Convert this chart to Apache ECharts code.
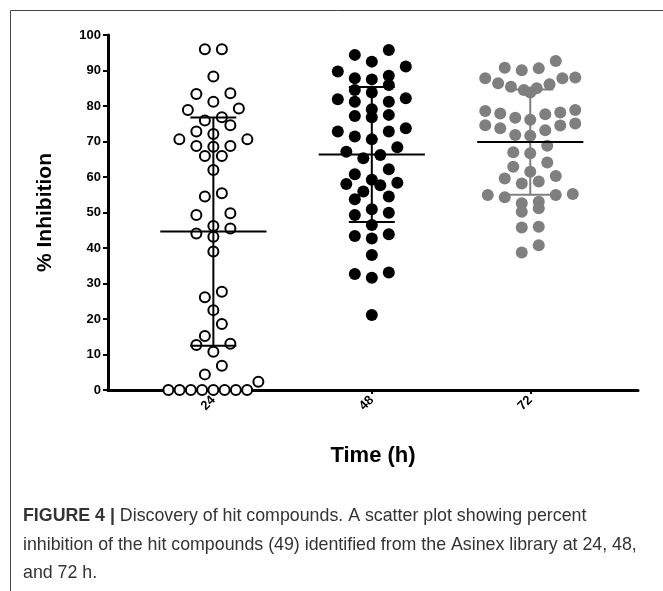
<!DOCTYPE html>
<html>
<head>
<meta charset="utf-8">
<script src="https://cdn.jsdelivr.net/npm/echarts@6/dist/echarts.min.js"></script>
<style>
html, body { margin: 0; padding: 0; background: #fff; }
#chart { width: 663px; height: 591px; }
</style>
</head>
<body>
<div id="chart"></div>
<script>
// categories (Time, h) and their position on the x value axis
const timeLabels = ['24', '48', '72']
const timePos = [1, 2, 3]

// % inhibition of the 49 hit compounds at each time point
const inhib24 = [96, 96, 88.3, 83.4, 83.6, 81.2, 79.3, 78.9, 76.8, 75.9, 74.6, 72.1, 72.8,
    70.6, 70.6, 68.7, 68.7, 68.5, 65.9, 65.9, 62, 55.4, 54.5, 49.3, 49.8, 45.5, 46.2,
    43.2, 44.1, 39, 26.1, 27.7, 22.5, 18.6, 15.2, 10.8, 12.7, 13, 6.8, 4.4, 2.3,
    0, 0, 0, 0, 0, 0, 0, 0]
const inhib48 = [95.8, 94.4, 92.5, 91.1, 89.7, 88.5, 87.8, 87.5, 85.9, 84.5, 83.8, 81.9,
    81.2, 82.2, 81.2, 79.1, 77.2, 76.8, 77.5, 73.7, 72.8, 72.8, 70.6, 71.4, 68.4, 67.1,
    65.3, 66.2, 62.2, 60.8, 59.2, 58, 57.7, 58.4, 55.9, 53.7, 54.5, 50.9, 49.3, 49.9,
    46.5, 43.9, 43.4, 42.7, 38, 32.7, 31.6, 33.1, 21.1]
const inhib72 = [90.8, 90.1, 90.6, 92.7, 87.8, 86.1, 85.4, 84.5, 83.8, 85, 86.4, 88, 87.8,
    78.9, 77.9, 76.7, 77.7, 78.2, 78.6, 76.1, 74.5, 73.7, 73.2, 74.6, 75.1, 71.8, 71.6,
    68.8, 67, 66.7, 64.1, 62.9, 61.5, 60.3, 58.7, 58.2, 59.6, 55.2, 54.9, 53, 51.2,
    52.6, 50.2, 54.3, 54.9, 46, 45.8, 40.8, 38.7]

const yTicks = [0, 10, 20, 30, 40, 50, 60, 70, 80, 90, 100]

const X_MIN = 0.335
const X_MAX = 3.68
const GRID = { left: 108, right: 25, top: 35, bottom: 201 }
const pxPerX = (663 - GRID.left - GRID.right) / (X_MAX - X_MIN)
const ROW_H = 3.6      // value range that shares one row
const MAX_GAP = 17     // px between neighbours in a row
const ROW_W = 90       // px, widest row

// column-scatter layout: points close in value share a row, spread out from the centre
function spread(values, center) {
    const idx = values.map((v, i) => i).sort((a, b) => values[b] - values[a])
    const out = []
    let row = []
    const flush = () => {
        if (!row.length) return
        const n = row.length
        const gap = n > 1 ? Math.min(MAX_GAP, ROW_W / (n - 1)) : 0
        const slots = []
        for (let k = 0; k < n; k++) slots.push(k - (n - 1) / 2)
        slots.sort((a, b) => Math.abs(a) - Math.abs(b) || a - b)
        const asc = row.slice().sort((a, b) => values[a] - values[b])
        asc.forEach((i, k) => { out[i] = [center + slots[k] * gap / pxPerX, values[i]] })
        row = []
    }
    let start = null
    idx.forEach(i => {
        if (start === null || values[i] < start - ROW_H) {
            flush()
            start = values[i]
        }
        row.push(i)
    })
    flush()
    return out
}

function meanSd(values) {
    const m = values.reduce((a, b) => a + b, 0) / values.length
    const v = values.reduce((a, b) => a + (b - m) ** 2, 0) / (values.length - 1)
    return [m, Math.sqrt(v)]
}

const groups = [inhib24, inhib48, inhib72]
const sdColors = ['#000', '#000', '#7f7f7f']
const summary = groups.map((g, i) => {
    const [m, sd] = meanSd(g)
    return [timePos[i], m, sd, i]
})

const chart = echarts.init(document.getElementById('chart'))
const font = 'Liberation Sans'

const option = {
    animation: false,
    grid: GRID,
    xAxis: {
        type: 'value',
        min: X_MIN,
        max: X_MAX,
        splitLine: { show: false },
        axisLine: { show: true, lineStyle: { color: '#000', width: 3 } },
        axisTick: { show: true, customValues: timePos, length: 4, lineStyle: { color: '#000', width: 2 } },
        axisLabel: {
            customValues: timePos,
            formatter: v => timeLabels[timePos.indexOf(Math.round(v))] || '',
            rotate: 45,
            margin: 8,
            color: '#000',
            fontWeight: 'bold',
            fontSize: 13,
            fontFamily: font
        },
        name: 'Time (h)',
        nameLocation: 'middle',
        nameGap: 55,
        nameTextStyle: { color: '#000', fontWeight: 'bold', fontSize: 22, fontFamily: font }
    },
    yAxis: {
        type: 'value',
        min: 0,
        max: 100,
        interval: 10,
        splitLine: { show: false },
        axisLine: { show: true, lineStyle: { color: '#000', width: 3 } },
        axisTick: { show: true, length: 5, lineStyle: { color: '#000', width: 2 } },
        axisLabel: {
            margin: 7,
            color: '#000',
            fontWeight: 'bold',
            fontSize: 13,
            fontFamily: font,
            formatter: v => yTicks.includes(v) ? String(v) : ''
        },
        name: '% Inhibition',
        nameLocation: 'middle',
        nameGap: 52,
        nameTextStyle: { color: '#000', fontWeight: 'bold', fontSize: 21, fontFamily: font }
    },
    series: [
        {
            type: 'scatter',
            data: spread(inhib24, timePos[0]),
            symbolSize: 10,
            itemStyle: { color: '#fff', borderColor: '#000', borderWidth: 2, opacity: 1 },
            z: 2
        },
        {
            type: 'scatter',
            data: spread(inhib48, timePos[1]),
            symbolSize: 12,
            itemStyle: { color: '#000', opacity: 1 },
            z: 2
        },
        {
            type: 'scatter',
            data: spread(inhib72, timePos[2]),
            symbolSize: 12,
            itemStyle: { color: '#7f7f7f', opacity: 1 },
            z: 2
        },
        {
            type: 'custom',
            data: summary,
            z: 5,
            renderItem(params, api) {
                const x = api.value(0), m = api.value(1), sd = api.value(2)
                const col = sdColors[api.value(3)]
                const c = api.coord([x, m])
                const top = api.coord([x, m + sd])
                const bot = api.coord([x, Math.max(m - sd, 0)])
                const half = api.size([0.335, 0])[0]
                const cap = api.size([0.145, 0])[0]
                return {
                    type: 'group',
                    children: [
                        { type: 'line', shape: { x1: c[0], y1: top[1], x2: c[0], y2: bot[1] }, style: { stroke: col, lineWidth: 2 } },
                        { type: 'line', shape: { x1: c[0] - cap, y1: top[1], x2: c[0] + cap, y2: top[1] }, style: { stroke: col, lineWidth: 2 } },
                        { type: 'line', shape: { x1: c[0] - cap, y1: bot[1], x2: c[0] + cap, y2: bot[1] }, style: { stroke: col, lineWidth: 2 } },
                        { type: 'line', shape: { x1: c[0] - half, y1: c[1], x2: c[0] + half, y2: c[1] }, style: { stroke: '#000', lineWidth: 2 } }
                    ]
                }
            }
        }
    ],
    graphic: [
        { type: 'line', shape: { x1: 10.5, y1: 10.5, x2: 663, y2: 10.5 }, style: { stroke: '#444', lineWidth: 1 } },
        { type: 'line', shape: { x1: 10.5, y1: 10.5, x2: 10.5, y2: 591 }, style: { stroke: '#444', lineWidth: 1 } },
        {
            type: 'text',
            left: 23,
            top: 502,
            style: {
                text: '{b|FIGURE 4 |} Discovery of hit compounds. A scatter plot showing percent\ninhibition of the hit compounds (49) identified from the Asinex library at 24, 48,\nand 72 h.',
                fontFamily: 'Liberation Sans',
                fontSize: 17.8,
                lineHeight: 28.5,
                fill: '#333',
                rich: {
                    b: { fontWeight: 'bold', fontFamily: 'Liberation Sans', fontSize: 17.8, fill: '#333' }
                }
            }
        }
    ]
}
chart.setOption(option)
</script>
</body>
</html>
